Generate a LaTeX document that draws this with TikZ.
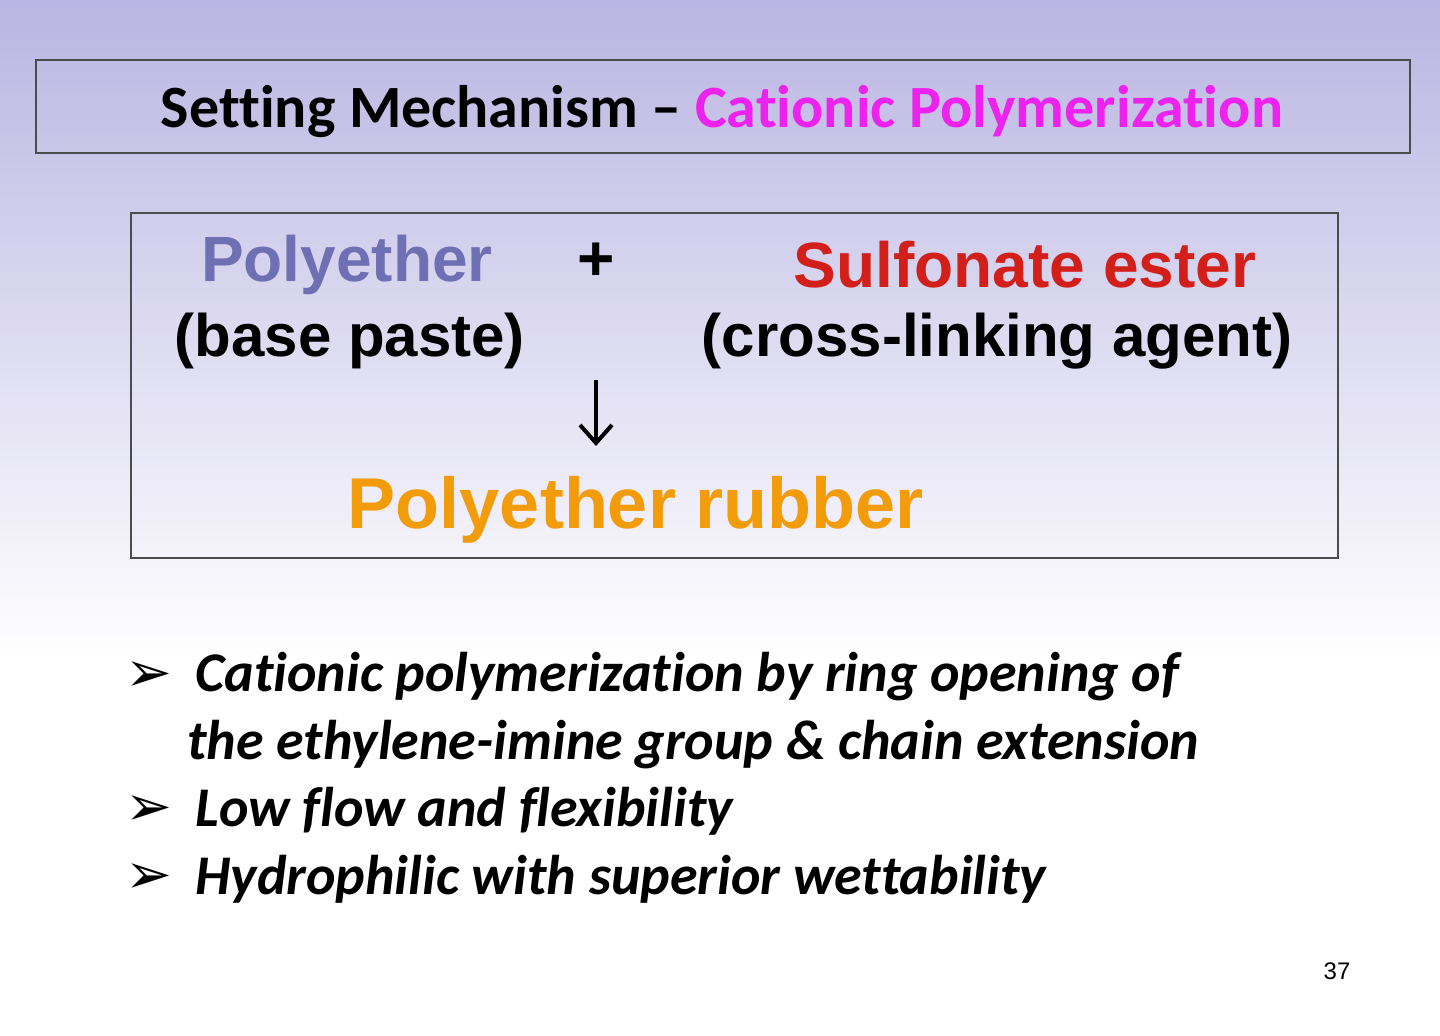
\documentclass[tikz,border=0pt]{standalone}
\usepackage{fontspec}
\setmainfont[Ligatures=NoCommon]{Carlito}
\newfontfamily\arialfnt{Liberation Sans}
\newfontfamily\djvfnt{DejaVu Sans}
\usetikzlibrary{arrows.meta}
\definecolor{bgtop}{HTML}{BAB5E2}
\definecolor{pe}{HTML}{6F6FB3}
\definecolor{se}{HTML}{D31F1A}
\definecolor{pr}{HTML}{F29C0C}
\definecolor{mag}{HTML}{EE22EE}
\begin{document}
\begin{tikzpicture}[x=0.5pt,y=-0.5pt,
  box/.style={draw=black!70,line width=0.8pt},
  big/.style={font=\arialfnt\bfseries\fontsize{32}{36}\selectfont,inner sep=0pt},
  sub/.style={font=\arialfnt\bfseries\fontsize{30}{34}\selectfont,inner sep=0pt},
  bul/.style={font=\bfseries\itshape\fontsize{28}{32}\selectfont,anchor=west,inner sep=0pt},
  mk/.style={font=\djvfnt\fontsize{28}{32}\selectfont,anchor=west,inner sep=0pt}]
\useasboundingbox (0,0) rectangle (1440,1036);
\shade[top color=bgtop,bottom color=white] (0,0) rectangle (1440,660);
\fill[white] (0,659) rectangle (1440,1036);
\draw[box] (36,60) rectangle (1410,153);
\node[inner sep=0pt,font=\bfseries\fontsize{30}{34}\selectfont] (title) at (722,112) {Setting Mechanism -- \textcolor{mag}{Cationic Polymerization}};
\draw[box] (131,213) rectangle (1338,558);
\node[big,text=pe] (pe) at (347,265) {Polyether};
\node[sub] (bp) at (350,341) {(base paste)};
\node[big] (plus) at (596,262) {+};
\node[big,text=se] (se) at (1025,265) {Sulfonate ester};
\node[sub] (cl) at (997,341) {(cross-linking agent)};
\node[big,text=pr,font=\arialfnt\bfseries\fontsize{36}{40}\selectfont] (pr) at (636,510) {Polyether rubber};
\coordinate (a1) at (596,380);
\coordinate (a2) at (596,446);
\draw[line width=2pt,-{Straight Barb[length=9pt,width=16pt]}] (a1) -- (a2);
\node[mk] (m1) at (125,677) {➢};
\node[bul] (b1) at (195,677) {Cationic polymerization by ring opening of};
\node[bul] (b1b) at (187,745) {the ethylene-imine group \& chain extension};
\node[mk] (m2) at (125,811) {➢};
\node[bul] (b2) at (195,811) {Low flow and flexibility};
\node[mk] (m3) at (125,879) {➢};
\node[bul] (b3) at (195,879) {Hydrophilic with superior wettability};
\node[font=\arialfnt\fontsize{12}{14}\selectfont,inner sep=0pt] (pg) at (1337,971) {37};
\end{tikzpicture}
\end{document}
